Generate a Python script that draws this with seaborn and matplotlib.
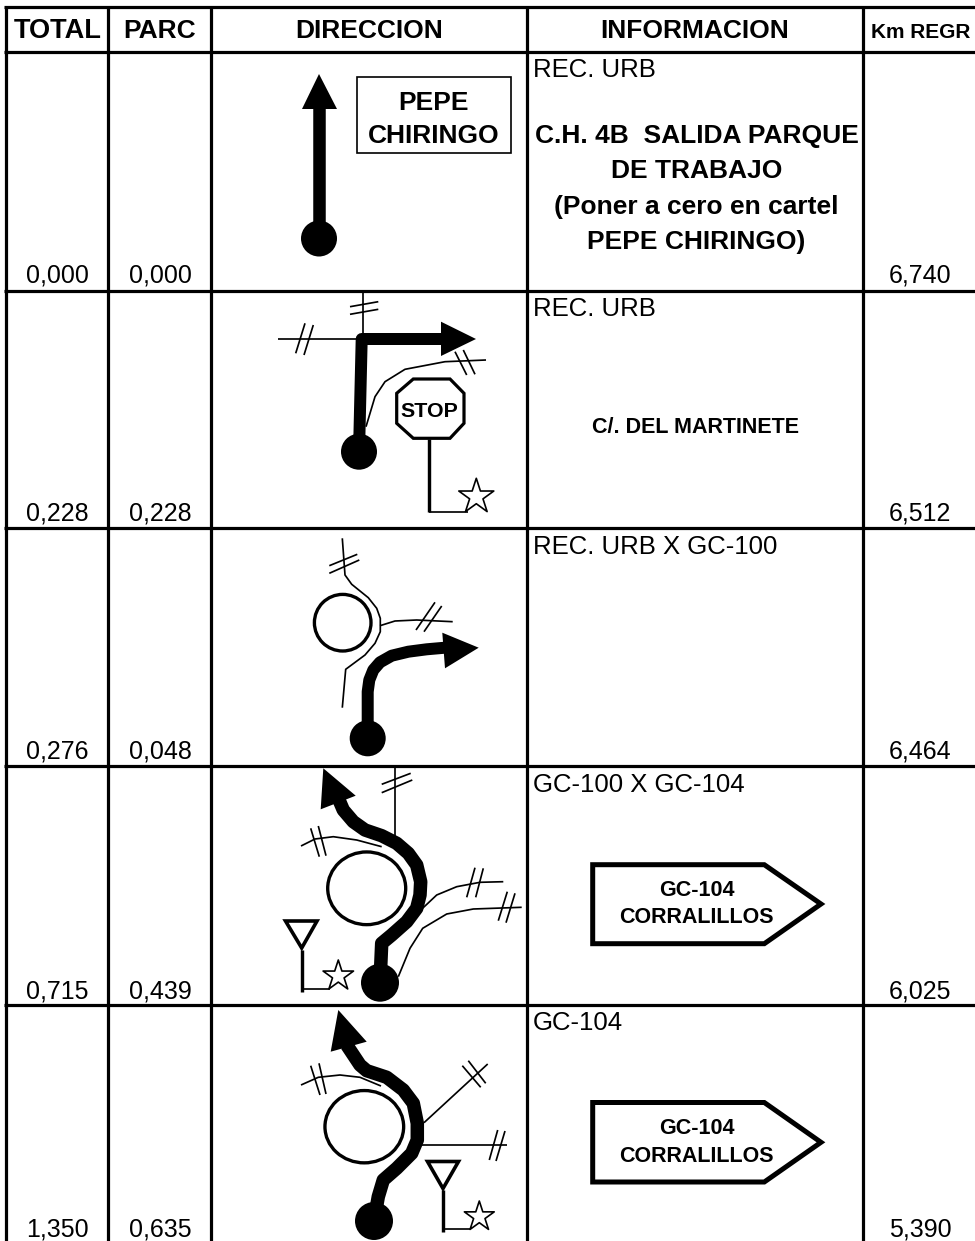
import matplotlib
matplotlib.use('Agg')
import matplotlib.pyplot as plt
from matplotlib.patches import Circle, Ellipse, Polygon, Rectangle
import pandas as pd
import seaborn as sns

# Roadbook table values
headers = ['TOTAL', 'PARC', 'DIRECCION', 'INFORMACION', 'Km REGR']
header_x = [57.5, 160, 369, 695, 921]
header_size = [19.6, 19, 19, 19, 15]
total = ['0,000', '0,228', '0,276', '0,715', '1,350']
parc = ['0,000', '0,228', '0,048', '0,439', '0,635']
regr = ['6,740', '6,512', '6,464', '6,025', '5,390']
info = ['REC. URB', 'REC. URB', 'REC. URB X GC-100', 'GC-100 X GC-104', 'GC-104']

# Table grid and text rows, in picture pixels
col_edges = [5.5, 108, 211, 527, 863]
row_edges = [7, 52, 291, 528, 766, 1005]
value_base = [283, 521, 759, 998, 1236.5]
info_base = [77, 316, 554, 792.5, 1030]

info_lines = ['C.H. 4B  SALIDA PARQUE', 'DE TRABAJO', '(Poner a cero en cartel', 'PEPE CHIRINGO)']
info_lines_y = [143, 178, 214, 249]

# Thick route of each panel
routes = [
    [(319, 240), (319, 105)],
    [(359.3, 440), (361.7, 339), (441.7, 339)],
    [(367.7, 725), (367.7, 691.7), (369.3, 680), (373.3, 670), (380, 662.3), (391.7, 655.7),
     (408.3, 651.7), (426.7, 649.3), (445, 647.7)],
    [(380, 982.7), (381.7, 943.3), (391.7, 935), (406.7, 921.7), (416.7, 908.3), (420, 895),
     (420.7, 881.7), (416.7, 865), (408.3, 853.3), (396.7, 843.3), (381.7, 835.7), (365, 830),
     (353.3, 821.7), (343.3, 810), (338.3, 798.3)],
    [(374, 1221), (378.3, 1196.7), (383.3, 1180), (396.7, 1168.3), (411.7, 1153.3), (417.3, 1140),
     (417.3, 1123.3), (413.3, 1103.3), (403.3, 1090), (386.7, 1077.3), (366.7, 1070.7), (360, 1065),
     (346.7, 1045)],
]
route_width = [12.5, 12, 12, 13.5, 13.5]
arrow_heads = [
    [(319, 74), (337, 109), (302, 109)],
    [(441, 321.7), (476, 339), (441, 356)],
    [(442.3, 632.7), (478.7, 647.7), (445, 668.3)],
    [(323.3, 768.3), (355.7, 795.7), (320.7, 809.3)],
    [(338.3, 1010), (366.7, 1041.7), (330.7, 1051.7)],
]
start_dots = [(319, 238.5, 18), (359, 451.7, 18), (367.7, 738.3, 18), (380, 982.7, 19), (374, 1221, 19)]

# Thin side roads and their double ticks
roads = [
    [(278.3, 339), (358, 339)],
    [(363.3, 293.3), (363.3, 333)],
    [(366, 426.7), (375, 396.7), (385, 381.7), (405, 369.3), (445, 361.7), (486, 360)],
    [(342.3, 538.3), (345, 575), (351.7, 584.3), (368.3, 597.7), (376.7, 608.3), (380.3, 618.3),
     (380.3, 631.7), (375, 643.3), (365, 655), (345.7, 669.3), (342.3, 707.7)],
    [(380, 625.7), (395, 621), (416.7, 620), (452.7, 621.7)],
    [(394.7, 768.3), (394.7, 840)],
    [(301, 846), (315, 839), (333.3, 836.7), (356.7, 840), (381.7, 846.7)],
    [(420, 910.7), (436.7, 895), (456.7, 886.7), (480, 882.3), (503.3, 881.7)],
    [(398.3, 976.7), (410, 948.3), (422.7, 928.3), (446.7, 914), (473.3, 909), (521.7, 907.3)],
    [(301, 1085), (318.3, 1077.3), (340, 1075), (360, 1077.3), (381, 1086)],
    [(424, 1122.7), (487.7, 1064)],
    [(421.7, 1145.3), (506.7, 1145.3)],
]
ticks = [
    [(295.7, 353.3), (305, 323.3)], [(304, 355), (313.3, 325)],
    [(350, 306.7), (378.3, 301.7)], [(350, 314.3), (378.3, 309.3)],
    [(455, 351.7), (466.7, 375)], [(463.3, 350), (475, 374.3)],
    [(329.3, 573.3), (359.3, 560)], [(329.3, 565.7), (357.3, 554.3)],
    [(416, 630), (435, 602.3)], [(424, 631.7), (441.7, 606)],
    [(381.7, 784.3), (410.7, 773.3)], [(381.7, 792.7), (412.3, 780)],
    [(310.7, 828.3), (319.3, 856.7)], [(318.3, 826), (326, 855.7)],
    [(466.7, 897.3), (475, 867.7)], [(475.7, 897.3), (483.3, 868.3)],
    [(498.3, 920.7), (507.3, 891.7)], [(506, 922.7), (515, 893.3)],
    [(310.7, 1065.7), (320, 1095)], [(319, 1063.3), (326, 1094)],
    [(462.3, 1065.7), (480.7, 1087.3)], [(468.3, 1060.7), (485.7, 1083.3)],
    [(489.3, 1160), (497.7, 1130)], [(496, 1161), (505, 1131)],
]

# Roundabouts: centre x, centre y, width, height
rings = [(342.7, 622.7, 56.6, 56.6), (366.7, 888.3, 78, 72.7), (364.3, 1126.7, 78.7, 72.3)]

# Road signs
stop_octagon = [(413.3, 379), (450, 379), (464, 393.3), (464, 423.3), (450, 438.3), (413.3, 438.3),
                (396.7, 423.3), (396.7, 393.3)]
yields = [
    [(285.5, 921), (317, 921), (301.7, 948)],
    [(427.5, 1161.5), (458.5, 1161.5), (443, 1188.5)],
]
poles = [
    [(428.7, 439.3), (428.7, 511.7)],
    [(301.7, 950), (301.7, 991.7)],
    [(443.3, 1190), (443.3, 1231.7)],
]
pole_feet = [
    [(428.7, 511.7), (468.3, 511.7)],
    [(301.7, 989), (330, 989)],
    [(443.3, 1229.3), (470, 1229.3)],
]
star_x = [476.3, 338.3, 479.3]
star_y = [496.7, 976, 1216.7]
star_area = [702, 531, 511]
direction_signs = [
    [(592.7, 864.7), (764.3, 864.7), (821, 904), (764.3, 943.7), (592.7, 943.7)],
    [(592.7, 1102.5), (764.3, 1102.5), (821, 1142.3), (764.3, 1182), (592.7, 1182)],
]
sign_text_y = [(896, 923.3), (1134, 1161.5)]

sns.set_theme(style='white')
plt.rcParams['font.family'] = ['Liberation Sans', 'DejaVu Sans']

fig = plt.figure(figsize=(9.75, 12.41), dpi=100)
ax = fig.add_axes([0, 0, 1, 1])


def stroke(path, width, cap='butt'):
    # width is given in pixels
    df = pd.DataFrame(path, columns=['x', 'y'])
    sns.lineplot(data=df, x='x', y='y', sort=False, estimator=None, color='black',
                 linewidth=width * 0.72, solid_capstyle=cap, solid_joinstyle='round', ax=ax)


# Table grid
for y in row_edges:
    ax.hlines(y, col_edges[0] - 1.5, 975, color='black', linewidth=2.3)
for x in col_edges:
    ax.vlines(x, row_edges[0], 1241, color='black', linewidth=2.3)

# Header and rows text
for name, x, size in zip(headers, header_x, header_size):
    ax.text(x, 38, name, ha='center', va='baseline', fontsize=size, fontweight='bold', color='black')
for i in range(5):
    ax.text(57.5, value_base[i], total[i], ha='center', va='baseline', fontsize=18, color='black')
    ax.text(160.5, value_base[i], parc[i], ha='center', va='baseline', fontsize=18, color='black')
    ax.text(920, value_base[i], regr[i], ha='center', va='baseline', fontsize=18, color='black')
    ax.text(533, info_base[i], info[i], ha='left', va='baseline', fontsize=18.5, color='black')

for line, y in zip(info_lines, info_lines_y):
    ax.text(696.5, y, line, ha='center', va='baseline', fontsize=19, fontweight='bold', color='black')
ax.text(696, 433, 'C/. DEL MARTINETE', ha='center', va='baseline', fontsize=15.5, fontweight='bold', color='black')

# First panel plate
ax.add_patch(Rectangle((357, 77), 154, 76, fill=False, edgecolor='black', linewidth=1.2))
ax.text(434, 110, 'PEPE', ha='center', va='baseline', fontsize=19, fontweight='bold', color='black')
ax.text(434, 143, 'CHIRINGO', ha='center', va='baseline', fontsize=19, fontweight='bold', color='black')

# Side roads go under the routes
for path in roads:
    stroke(path, 1.7)
for path in ticks:
    stroke(path, 1.7)
for x, y, w, h in rings:
    ax.add_patch(Ellipse((x, y), w, h, fill=False, edgecolor='black', linewidth=2.4))

for path, width in zip(routes, route_width):
    stroke(path, width)
for head in arrow_heads:
    ax.add_patch(Polygon(head, closed=True, facecolor='black', edgecolor='none', zorder=3))
for x, y, r in start_dots:
    ax.add_patch(Circle((x, y), r, facecolor='black', edgecolor='none', zorder=3))

# Signs
ax.add_patch(Polygon(stop_octagon, closed=True, facecolor='white', edgecolor='black', linewidth=2.3))
ax.text(429, 416.7, 'STOP', ha='center', va='baseline', fontsize=15.4, fontweight='bold', color='black')
for tri in yields:
    ax.add_patch(Polygon(tri, closed=True, fill=False, edgecolor='black', linewidth=2.6, joinstyle='miter'))
for path in poles:
    stroke(path, 3.4)
for path in pole_feet:
    stroke(path, 1.7)
sns.scatterplot(x=star_x, y=star_y, s=star_area, marker='*', color='white', edgecolor='black',
                linewidth=1.2, ax=ax, zorder=4)

for shape, (y1, y2) in zip(direction_signs, sign_text_y):
    ax.add_patch(Polygon(shape, closed=True, fill=False, edgecolor='black', linewidth=3.6, joinstyle='miter'))
    ax.text(696.7, y1, 'GC-104', ha='center', va='baseline', fontsize=15.5, fontweight='bold', color='black')
    ax.text(696.7, y2, 'CORRALILLOS', ha='center', va='baseline', fontsize=15.5, fontweight='bold', color='black')

ax.set_xlim(0, 975)
ax.set_ylim(1241, 0)
ax.axis('off')
fig.savefig('out.png', dpi=100)
